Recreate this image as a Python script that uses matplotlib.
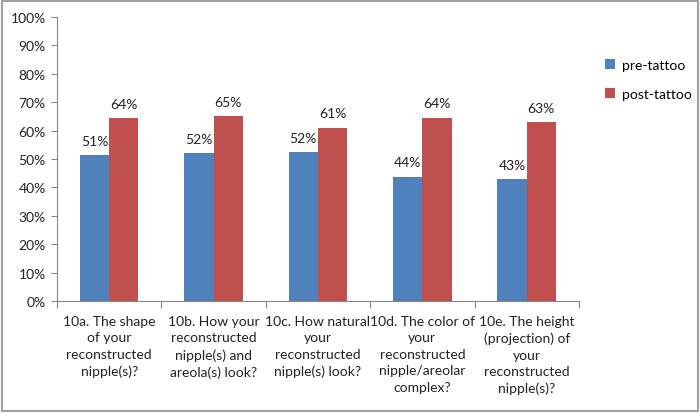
import matplotlib
matplotlib.use("Agg")
import matplotlib.pyplot as plt
import numpy as np
from matplotlib.patches import Rectangle

categories = [
    "10a. The shape\nof your\nreconstructed\nnipple(s)?",
    "10b. How your\nreconstructed\nnipple(s) and\nareola(s) look?",
    "10c. How natural\nyour\nreconstructed\nnipple(s) look?",
    "10d. The color of\nyour\nreconstructed\nnipple/areolar\ncomplex?",
    "10e. The height\n(projection) of\nyour\nreconstructed\nnipple(s)?",
]
pre_tattoo = [51.3, 52.0, 52.3, 43.8, 42.8]
post_tattoo = [64.4, 65.0, 61.0, 64.5, 63.0]
pre_labels = ["51%", "52%", "52%", "44%", "43%"]
post_labels = ["64%", "65%", "61%", "64%", "63%"]
y_ticks = list(range(0, 101, 10))

plt.rcParams['font.family'] = ['Lato', 'DejaVu Sans']
fig = plt.figure(figsize=(7, 4.14), dpi=100)
ax = fig.add_axes([0.0814, 0.2705, 0.7456, 0.686])

x = np.arange(len(categories))
w = 0.28
blue = "#4F81BD"
red = "#C0504D"
fs = 10
b1 = ax.bar(x - w/2, pre_tattoo, w, color=blue, label="pre-tattoo")
b2 = ax.bar(x + w/2, post_tattoo, w, color=red, label="post-tattoo")

for bars, labs in ((b1, pre_labels), (b2, post_labels)):
    for r, t in zip(bars, labs):
        ax.annotate(t, (r.get_x() + r.get_width()/2, r.get_height()),
                    xytext=(0, 6), textcoords="offset points",
                    ha="center", va="bottom", fontsize=fs, color="#222222")

ax.set_xlim(-0.5, len(categories) - 0.5)
ax.set_ylim(0, 100)
ax.set_yticks(y_ticks)
ax.set_yticklabels([f"{v}%" for v in y_ticks], fontsize=fs, color="#222222")

ax.set_xticks(np.arange(-0.5, len(categories), 1.0))
ax.set_xticklabels([])
ax.set_xticks(x, minor=True)
ax.set_xticklabels(categories, minor=True, fontsize=fs, color="#222222", linespacing=1.45, va="top", ha="center")
ax.tick_params(axis="x", which="minor", length=0, pad=10)
ax.tick_params(axis="x", which="major", length=5, color="#868686", direction="out")
ax.tick_params(axis="y", length=4, color="#868686", direction="out", pad=4)

for s in ("top", "right"):
    ax.spines[s].set_visible(False)
for s in ("left", "bottom"):
    ax.spines[s].set_color("#868686")

fig.legend(handles=[b1, b2], loc="upper left", bbox_to_anchor=(0.847, 0.885),
           frameon=False, fontsize=fs, handlelength=0.7, handleheight=0.7,
           handletextpad=0.5, labelspacing=1.2)

fig.patches.append(Rectangle((0.003, 0.004), 0.994, 0.992, transform=fig.transFigure,
                             fill=False, edgecolor="#A0A0A0", linewidth=1.5))

fig.savefig("out.png", dpi=100)
